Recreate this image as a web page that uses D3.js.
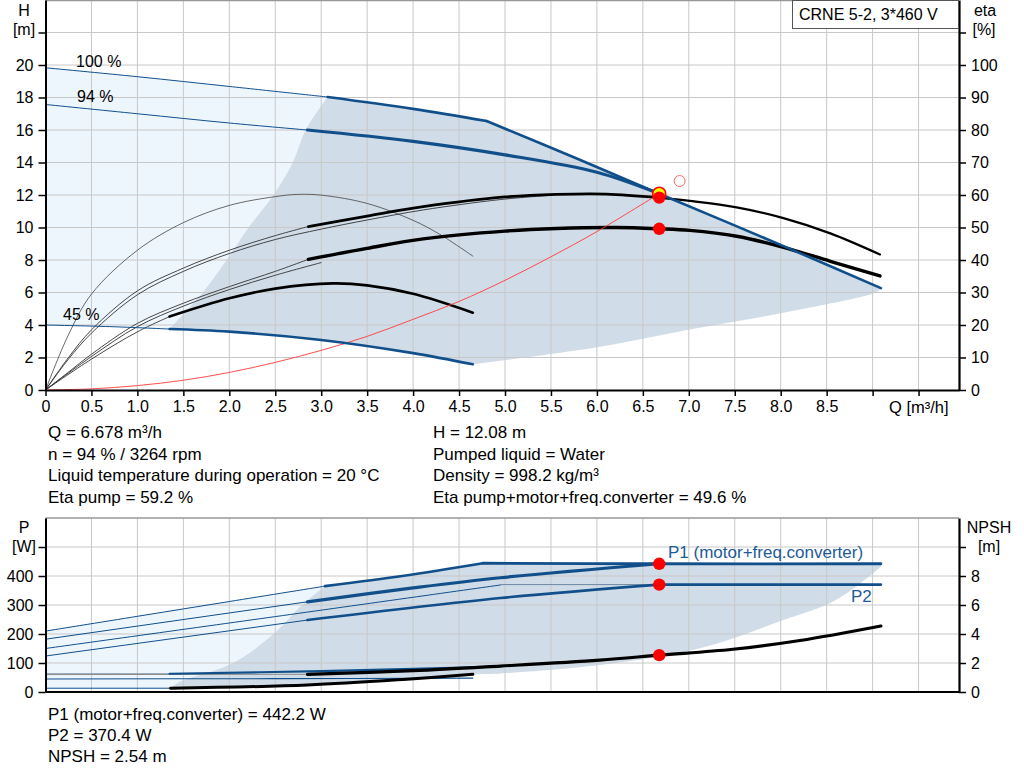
<!DOCTYPE html>
<html>
<head>
<meta charset="utf-8">
<script src="https://cdn.jsdelivr.net/npm/d3@7"></script>
<style>
  body { margin: 0; background: #fff; }
  svg { font-family: "Liberation Sans", Arial, sans-serif; }
</style>
</head>
<body>
<svg id="chart" width="1024" height="781"></svg>
<script>
// ---- values (Q in m³/h) ----
// head curves, H [m]
const h100Thin = [[0, 19.83], [1, 19.28], [2, 18.68], [3.07, 18.03]];
const h100 = [[3.07, 18.03], [4, 17.3], [4.8, 16.55]];
const hMax = [[4.8, 16.55], [5.8, 14.2], [6.678, 12.08], [8, 8.93], [9.09, 6.27]];
const h94Thin = [[0, 17.57], [1, 17.0], [2, 16.43], [2.85, 16.0]];
const h94 = [[2.85, 16.0], [4, 15.3], [5, 14.47], [6, 13.4], [6.678, 12.08]];
const h45Thin = [[0, 4.0], [0.7, 3.9], [1.35, 3.75]];
const h45 = [[1.35, 3.75], [2, 3.59], [3, 3.08], [4, 2.27], [4.65, 1.58]];
// edges of the operating range
const leftEdgeH = [[1.35, 3.75], [1.39, 4], [1.71, 6], [1.97, 8], [2.21, 10], [2.48, 12], [2.69, 14], [2.83, 16], [3.07, 18.03]];
const lowEdgeH = [[4.65, 1.58], [6.0, 2.63], [7.01, 3.73], [8.03, 4.76], [9.05, 6.05], [9.09, 6.27]];
// system curve through duty point
const systemCurve = [[0, 0], [0.5, 0.07], [1, 0.27], [1.5, 0.6], [2, 1.08], [2.5, 1.7], [3, 2.44], [3.5, 3.3],
  [4, 4.35], [4.5, 5.45], [5, 6.75], [5.5, 8.2], [6, 9.75], [6.678, 12.08]];

// efficiency curves, eta [%]
const etaPump94Thin = [[0, 0], [0.25, 10], [0.5, 18.5], [1, 30.5], [1.5, 37.5], [2, 43], [2.5, 47.5], [2.86, 50.3]];
const etaPump94 = [[2.86, 50.3], [3.5, 53.5], [4.11, 56.4], [5, 59.4], [5.56, 60.2], [6.1, 60.3], [6.678, 59.2]];
const etaPump94End = [[6.678, 59.2], [7.01, 58.2], [7.52, 56.2], [8.03, 52.9], [8.54, 48.2], [9.08, 41.7]];
const etaPump100Thin = [[0, 0], [0.25, 9.5], [0.5, 17.5], [1, 29.3], [1.5, 36.5], [2, 42], [2.5, 46.3], [3, 49.5],
  [3.5, 52.3], [4.11, 55.4], [4.95, 58.6], [5.5, 59.9]];
const etaTot94Thin = [[0, 0], [0.25, 5.5], [0.5, 11], [1, 20.5], [1.5, 26.7], [2, 31.8], [2.5, 36.5], [2.86, 40.2]];
const etaTot94 = [[2.86, 40.2], [3.5, 43.6], [4.11, 46.5], [5, 48.9], [5.56, 49.7], [6.2, 50], [6.678, 49.6],
  [7.01, 49.1], [7.52, 47.3], [8.03, 43.9], [8.54, 39.6], [9.08, 35.1]];
const etaTot100Thin = [[0, 0], [0.5, 10.3], [1, 19.5], [1.5, 25.8], [2, 30.9], [2.5, 35.3], [3.0, 39.2]];
const eta45Pump = [[0, 0], [0.25, 17], [0.5, 29.5], [1, 43], [1.5, 51.5], [2, 56.8], [2.5, 59.5], [2.75, 60.2],
  [3.02, 59.9], [3.5, 57.4], [4, 52.2], [4.29, 47.9], [4.65, 41.2]];
const eta45TotThin = [[0, 0], [0.5, 9.5], [1, 17.9], [1.35, 22.6]];
const eta45Tot = [[1.35, 22.6], [2, 28.2], [2.5, 31.2], [3.13, 32.8], [3.5, 32.2], [4, 29.6], [4.65, 23.8]];

// power curves, P [W]
const p1Max100Thin = [[0, 210], [1, 261], [2, 312], [3.04, 365]];
const p1Max100 = [[3.04, 365], [3.9, 401], [4.76, 444]];
const p1Flat = [[4.76, 444], [6.678, 442.2], [9.09, 442.2]];
const p194Thin = [[0, 182], [2.85, 311]];
const p194 = [[2.85, 311], [4, 359], [4.95, 394], [6.678, 442.2]];
const p2100Thin = [[0, 150], [2.5, 260], [4.95, 369]];
const p2FlatThin = [[4.95, 370.4], [6.678, 370.4]];
const p2Flat = [[6.678, 370.4], [9.09, 370.4]];
const p294Thin = [[0, 124], [2.85, 248]];
const p294 = [[2.85, 248], [4.95, 324], [6.678, 370.4]];
const p145Thin = [[0, 63], [1.35, 63]];
const p145 = [[1.35, 63], [3, 72], [4.65, 85]];
const p245 = [[0, 45], [2.5, 46], [4.65, 48]];
const pLowThin = [[0, 13], [1.36, 13]];
const leftEdgeP = [[1.36, 13], [1.46, 35], [2.04, 100], [2.48, 200], [2.79, 300], [3.04, 365]];
const lowEdgeP = [[1.36, 13], [2.85, 24], [3.93, 44], [4.65, 61], [4.95, 64], [6.03, 93], [7.12, 151],
  [8.03, 248], [8.6, 317], [9.09, 432]];
// NPSH [m]
const npsh45 = [[1.36, 0.26], [2.85, 0.48], [3.93, 0.88], [4.65, 1.22]];
const npshThin = [[0, 1.2], [2.85, 1.22]];
const npsh = [[2.85, 1.22], [4, 1.47], [4.95, 1.79], [6.03, 2.2], [6.678, 2.54], [7.48, 2.95], [8.21, 3.55], [9.09, 4.55]];

// duty point
const duty = { q: 6.678, h: 12.08, etaPump: 59.2, etaTot: 49.6, p1: 442.2, p2: 370.4, npsh: 2.54 };
const refPoint = [6.9, 12.86];

// ticks and texts
const qTicks = d3.range(0, 9.51, 0.5);
const hTicks = d3.range(0, 23, 2);
const etaTicks = d3.range(0, 111, 10);
const pTicks = d3.range(0, 501, 100);
const nTicks = d3.range(0, 11, 2);
const speedLabels = ['100 %', '94 %', '45 %'];
const infoLeft = ['Q = 6.678 m³/h', 'n = 94 % / 3264 rpm', 'Liquid temperature during operation = 20 °C', 'Eta pump = 59.2 %'];
const infoRight = ['H = 12.08 m', 'Pumped liquid = Water', 'Density = 998.2 kg/m³', 'Eta pump+motor+freq.converter = 49.6 %'];
const infoBottom = ['P1 (motor+freq.converter) = 442.2 W', 'P2 = 370.4 W', 'NPSH = 2.54 m'];
const title = 'CRNE 5-2, 3*460 V';

// ---- scales ----
const x = d3.scaleLinear().domain([0, 9.94]).range([45.5, 959]);
const yH = d3.scaleLinear().domain([0, 24]).range([390, 0]);
const yEta = d3.scaleLinear().domain([0, 120]).range([390, 0]);
const yP = d3.scaleLinear().domain([0, 600]).range([692, 518]);
const yN = d3.scaleLinear().domain([0, 12]).range([692, 518]);

const BLUE = '#114f8b';
const LIGHT = '#eef6fd';
const DARK = '#d0dce7';
const smooth = d3.curveCatmullRom.alpha(0.5);

const svg = d3.select('#chart');

function curvePath(pts, ys) {
    return d3.line()
        .x((d) => x(d[0]))
        .y((d) => ys(d[1]))
        .curve(smooth)(pts);
}

// closed outline built from several curve pieces
function outline(parts) {
    return parts.map((p, i) => {
        const pts = p[2] ? p[0].slice().reverse() : p[0];
        const s = curvePath(pts, p[1]);
        return i ? s.replace(/^M/, 'L') : s;
    }).join('') + 'Z';
}

function line(pts, ys, color, width) {
    svg.append('path')
        .attr('d', curvePath(pts, ys))
        .attr('fill', 'none')
        .attr('stroke', color)
        .attr('stroke-width', width)
        .attr('stroke-linecap', 'round');
}

// ---- fills ----
svg.append('path')
    .attr('d', outline([[h100Thin, yH], [leftEdgeH, yH, true], [h45Thin, yH, true]]))
    .attr('fill', LIGHT);
svg.append('path')
    .attr('d', outline([[leftEdgeH, yH], [h100, yH], [hMax, yH], [lowEdgeH, yH, true], [h45, yH, true]]))
    .attr('fill', DARK);
svg.append('path')
    .attr('d', outline([[p1Max100Thin, yP], [leftEdgeP, yP, true], [pLowThin, yP, true]]))
    .attr('fill', LIGHT);
svg.append('path')
    .attr('d', outline([[leftEdgeP, yP], [p1Max100, yP], [p1Flat, yP], [lowEdgeP, yP, true]]))
    .attr('fill', DARK);

// ---- grid ----
const grid = svg.append('g').attr('stroke', '#c8c8c8').attr('stroke-width', 1);
qTicks.filter((d) => d > 0).forEach((q) => {
    grid.append('line').attr('x1', x(q)).attr('x2', x(q)).attr('y1', 0).attr('y2', 390);
    grid.append('line').attr('x1', x(q)).attr('x2', x(q)).attr('y1', yP(600)).attr('y2', 692);
});
hTicks.filter((d) => d > 0).forEach((h) => {
    grid.append('line').attr('x1', x(0)).attr('x2', x.range()[1]).attr('y1', yH(h)).attr('y2', yH(h));
});
pTicks.filter((d) => d > 0).forEach((p) => {
    grid.append('line').attr('x1', x(0)).attr('x2', x.range()[1]).attr('y1', yP(p)).attr('y2', yP(p));
});
svg.append('line').attr('x1', x(0)).attr('x2', x.range()[1]).attr('y1', 0.5).attr('y2', 0.5)
    .attr('stroke', '#999').attr('stroke-width', 1.5);
svg.append('line').attr('x1', x(0)).attr('x2', x.range()[1]).attr('y1', yP(600)).attr('y2', yP(600))
    .attr('stroke', '#999').attr('stroke-width', 1.5);

// ---- upper chart curves ----
const THIN = '#333';
line(eta45Pump, yEta, '#444', 0.8);
line(etaPump94Thin, yEta, THIN, 0.9);
line(etaPump100Thin, yEta, THIN, 0.9);
line(etaTot94Thin, yEta, THIN, 0.9);
line(etaTot100Thin, yEta, THIN, 0.9);
line(eta45TotThin, yEta, THIN, 0.9);
line(eta45Tot, yEta, '#000', 2.6);
line(etaPump94, yEta, '#000', 2.8);
line(etaPump94End, yEta, '#000', 2.2);
line(etaTot94, yEta, '#000', 3.4);
line(systemCurve, yH, '#ff3b3b', 0.9);

line(h100Thin, yH, BLUE, 1);
line(h94Thin, yH, BLUE, 1);
line(h45Thin, yH, BLUE, 1);
line(h100, yH, BLUE, 2.6);
line(hMax, yH, BLUE, 2.6);
line(h94, yH, BLUE, 3.2);
line(h45, yH, BLUE, 2.6);

// ---- lower chart curves ----
line(p1Max100Thin, yP, BLUE, 1);
line(p194Thin, yP, BLUE, 1);
line(p2100Thin, yP, BLUE, 1);
line(p294Thin, yP, BLUE, 1);
line(p2FlatThin, yP, '#6d88a6', 1);
line(p145Thin, yP, '#8a97a6', 1);
line(p245, yP, BLUE, 1.1);
line(pLowThin, yP, BLUE, 1);
line(npshThin, yN, '#8c8c8c', 1);
line(p1Max100, yP, BLUE, 2.6);
line(p1Flat, yP, BLUE, 2.8);
line(p194, yP, BLUE, 3.2);
line(p294, yP, BLUE, 2.6);
line(p2Flat, yP, BLUE, 2.6);
line(p145, yP, BLUE, 2.2);
line(npsh45, yN, '#000', 3);
line(npsh, yN, '#000', 3.2);

// ---- markers ----
svg.append('circle').attr('cx', x(refPoint[0])).attr('cy', yH(refPoint[1])).attr('r', 5.5)
    .attr('fill', 'none').attr('stroke', '#ff6a6a').attr('stroke-width', 1);
svg.append('circle').attr('cx', x(duty.q)).attr('cy', yH(duty.h)).attr('r', 6.5)
    .attr('fill', '#ffff00').attr('stroke', '#ff0000').attr('stroke-width', 1.6);
[[yEta, duty.etaPump], [yEta, duty.etaTot], [yP, duty.p1], [yP, duty.p2], [yN, duty.npsh]].forEach((m) => {
    svg.append('circle').attr('cx', x(duty.q)).attr('cy', m[0](m[1])).attr('r', 6.2).attr('fill', '#ff0000');
});

// ---- axes ----
function styleAxis(g, width) {
    g.select('.domain').attr('stroke', '#000').attr('stroke-width', width);
    g.selectAll('.tick line').attr('stroke', '#000').attr('stroke-width', 1.5);
    g.selectAll('.tick text').attr('font-size', 16).attr('fill', '#000')
        .attr('font-family', '"Liberation Sans", Arial, sans-serif');
}
styleAxis(svg.append('g').attr('transform', 'translate(45.5,0)')
    .call(d3.axisLeft(yH).tickValues(hTicks).tickSize(7).tickSizeOuter(0).tickPadding(5)
        .tickFormat((d) => (d > 20 ? '' : d))), 2);
styleAxis(svg.append('g').attr('transform', 'translate(959,0)')
    .call(d3.axisRight(yEta).tickValues(etaTicks).tickSize(7).tickSizeOuter(0).tickPadding(5)
        .tickFormat((d) => (d > 100 ? '' : d))), 2.2);
styleAxis(svg.append('g').attr('transform', 'translate(0,390)')
    .call(d3.axisBottom(x).tickValues(qTicks).tickSize(6).tickSizeOuter(0).tickPadding(5)
        .tickFormat((d) => (d === 0 ? '0' : d > 8.6 ? '' : d3.format('.1f')(d)))), 2);
styleAxis(svg.append('g').attr('transform', 'translate(45.5,0)')
    .call(d3.axisLeft(yP).tickValues(pTicks).tickSize(7).tickSizeOuter(0).tickPadding(5)
        .tickFormat((d) => (d > 400 ? '' : d))), 2);
styleAxis(svg.append('g').attr('transform', 'translate(959,0)')
    .call(d3.axisRight(yN).tickValues(nTicks).tickSize(7).tickSizeOuter(0).tickPadding(5)
        .tickFormat((d) => (d > 8 ? '' : d))), 2.2);
svg.append('line').attr('x1', x(0)).attr('x2', x.range()[1]).attr('y1', 692).attr('y2', 692)
    .attr('stroke', '#000').attr('stroke-width', 2);

// ---- texts ----
function text(str, tx, ty, anchor, color, size) {
    return svg.append('text').attr('x', tx).attr('y', ty).attr('font-size', size || 17)
        .attr('text-anchor', anchor || 'start').attr('fill', color || '#000').text(str);
}
text('H', 24, 16, 'middle', '#000', 16);
text('[m]', 24, 35, 'middle', '#000', 16);
text('eta', 985, 16, 'middle', '#000', 16);
text('[%]', 984, 35, 'middle', '#000', 16);
text('Q [m³/h]', 889, 413, 'start', '#000', 16.5);
text('P', 24, 533, 'middle', '#000', 16);
text('[W]', 24, 552, 'middle', '#000', 16);
text('NPSH', 989, 533, 'middle', '#000', 16);
text('[m]', 989, 552, 'middle', '#000', 16);
text(speedLabels[0], 76, 67, 'start', '#000', 16);
text(speedLabels[1], 77, 102, 'start', '#000', 16);
text(speedLabels[2], 63, 320, 'start', '#000', 16);
text('P1 (motor+freq.converter)', 668, 558, 'start', '#1d5a98');
text('P2', 851, 602, 'start', '#1d5a98');

svg.append('rect').attr('x', 792.5).attr('y', 0.5).attr('width', 166).attr('height', 28)
    .attr('fill', '#fff').attr('stroke', '#555').attr('stroke-width', 1);
text(title, 799, 20, 'start', '#000', 16);

infoLeft.forEach((s, i) => text(s, 48, 438 + i * 21.5));
infoRight.forEach((s, i) => text(s, 433, 438 + i * 21.5));
infoBottom.forEach((s, i) => text(s, 48, 720 + i * 21));
</script>
</body>
</html>
